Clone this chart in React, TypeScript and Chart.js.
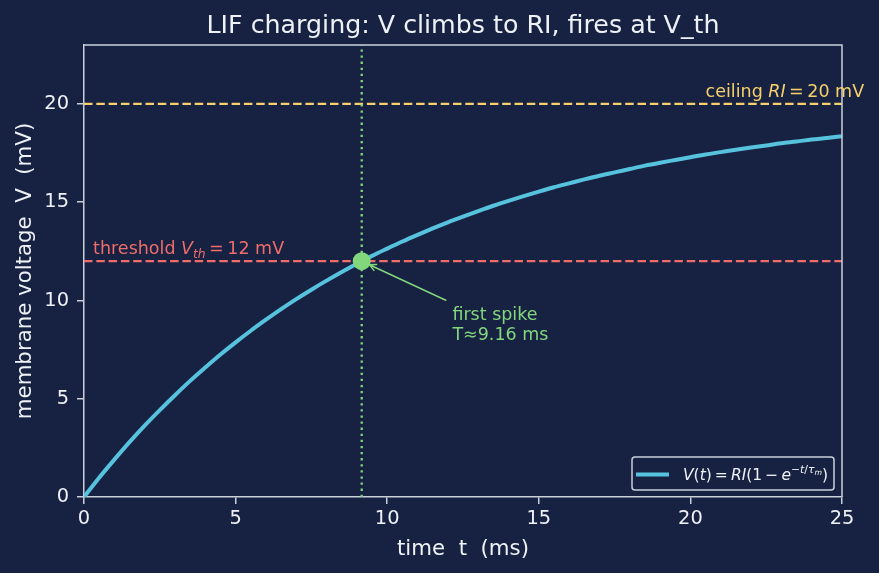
import React, { useEffect, useRef } from "react";
import { Chart, registerables } from "chart.js";

Chart.register(...registerables);

// Membrane potential of a leaky integrate-and-fire neuron charging toward RI
const tMs = [
  0, 0.5, 1, 1.5, 2, 2.5, 3, 3.5, 4, 4.5, 5, 5.5, 6, 6.5, 7, 7.5, 8, 8.5, 9, 9.5,
  10, 10.5, 11, 11.5, 12, 12.5, 13, 13.5, 14, 14.5, 15, 15.5, 16, 16.5, 17, 17.5,
  18, 18.5, 19, 19.5, 20, 20.5, 21, 21.5, 22, 22.5, 23, 23.5, 24, 24.5, 25,
];
const vmV = [
  0, 0.98, 1.9, 2.79, 3.63, 4.42, 5.18, 5.91, 6.59, 7.25, 7.87, 8.46, 9.02, 9.56,
  10.07, 10.55, 11.01, 11.45, 11.87, 12.27, 12.64, 13.0, 13.34, 13.67, 13.98, 14.27,
  14.55, 14.82, 15.07, 15.31, 15.54, 15.76, 15.96, 16.16, 16.35, 16.52, 16.69, 16.86,
  17.01, 17.15, 17.29, 17.43, 17.55, 17.67, 17.78, 17.89, 18.0, 18.09, 18.19, 18.27,
  18.36,
];

const V_TH = 12; // firing threshold (mV)
const RI = 20; // asymptotic ceiling (mV)
const T_SPIKE = 9.16; // first threshold crossing (ms)

const xTicks = [0, 5, 10, 15, 20, 25];
const yTicks = [0, 5, 10, 15, 20];

const BG = "#172141";
const FRAME = "#c9d0dc";
const TEXT = "#eef1f6";
const CURVE = "#56c2de";
const GREEN = "#82d67c";
const YELLOW = "#f5d06c";
const RED = "#ee6d6b";
const FAMILY = '"DejaVu Sans", "Noto Sans", sans-serif';

type Part = { t: string; it?: boolean; sc?: number; dy?: number };

function fontFor(p: Part, size: number) {
  const s = size * (p.sc ?? 1);
  return `${p.it ? "italic " : ""}${s}px ${FAMILY}`;
}

function drawRich(
  ctx: CanvasRenderingContext2D,
  parts: Part[],
  x: number,
  y: number,
  size: number,
  color: string,
  align: "left" | "center" = "left"
) {
  ctx.save();
  ctx.textBaseline = "alphabetic";
  ctx.textAlign = "left";
  let total = 0;
  for (const p of parts) {
    ctx.font = fontFor(p, size);
    total += ctx.measureText(p.t).width;
  }
  let cx = align === "center" ? x - total / 2 : x;
  ctx.fillStyle = color;
  for (const p of parts) {
    ctx.font = fontFor(p, size);
    ctx.fillText(p.t, cx, y + (p.dy ?? 0) * size);
    cx += ctx.measureText(p.t).width;
  }
  ctx.restore();
}

const decorPlugin = {
  id: "lifDecor",
  beforeDraw(chart: any) {
    const { ctx, width, height } = chart;
    ctx.save();
    ctx.fillStyle = BG;
    ctx.fillRect(0, 0, width, height);
    ctx.restore();
  },
  afterDraw(chart: any) {
    const { ctx, chartArea: a } = chart;
    const xs = chart.scales.x;
    const ys = chart.scales.y;

    // top and right spines
    ctx.save();
    ctx.strokeStyle = FRAME;
    ctx.lineWidth = 1.5;
    ctx.beginPath();
    ctx.moveTo(a.left, a.top);
    ctx.lineTo(a.right, a.top);
    ctx.lineTo(a.right, a.bottom);
    ctx.stroke();
    ctx.restore();

    // title
    drawRich(ctx, [{ t: "LIF charging: V climbs to RI, fires at V_th" }], (a.left + a.right) / 2, 33, 25.3, TEXT, "center");

    // axis titles
    drawRich(ctx, [{ t: "time  t  (ms)" }], (a.left + a.right) / 2, 555, 21.3, TEXT, "center");
    ctx.save();
    ctx.translate(31, (a.top + a.bottom) / 2);
    ctx.rotate(-Math.PI / 2);
    drawRich(ctx, [{ t: "membrane voltage  V  (mV)" }], 0, 0, 21.3, TEXT, "center");
    ctx.restore();

    // reference line labels
    drawRich(
      ctx,
      [{ t: "threshold " }, { t: "V", it: true }, { t: "th", it: true, sc: 0.7, dy: 0.22 }, { t: "\u2009=\u200912" }, { t: " mV" }],
      xs.getPixelForValue(0.3),
      ys.getPixelForValue(V_TH) - 7,
      17.5,
      RED
    );
    drawRich(
      ctx,
      [{ t: "ceiling " }, { t: "RI", it: true }, { t: "\u2009=\u200920" }, { t: " mV" }],
      xs.getPixelForValue(20.5),
      ys.getPixelForValue(RI) - 7,
      17.5,
      YELLOW
    );

    // spike marker on top of the reference lines
    const px = xs.getPixelForValue(T_SPIKE);
    const py = ys.getPixelForValue(V_TH);
    ctx.save();
    ctx.fillStyle = GREEN;
    ctx.beginPath();
    ctx.arc(px, py, 9, 0, Math.PI * 2);
    ctx.fill();
    ctx.restore();

    // arrow pointing to the first spike
    const tx = xs.getPixelForValue(11.95);
    const ty = ys.getPixelForValue(10.0);
    const dx = tx - px;
    const dyv = ty - py;
    const len = Math.hypot(dx, dyv);
    const ux = dx / len;
    const uy = dyv / len;
    const hx = px + ux * 8.5;
    const hy = py + uy * 8.5;
    ctx.save();
    ctx.strokeStyle = GREEN;
    ctx.lineWidth = 1.5;
    ctx.beginPath();
    ctx.moveTo(tx, ty);
    ctx.lineTo(hx, hy);
    const hl = 7;
    const hw = 3.5;
    ctx.moveTo(hx + ux * hl - uy * hw, hy + uy * hl + ux * hw);
    ctx.lineTo(hx, hy);
    ctx.lineTo(hx + ux * hl + uy * hw, hy + uy * hl - ux * hw);
    ctx.stroke();
    ctx.restore();

    const ax = xs.getPixelForValue(12.15);
    const ay = ys.getPixelForValue(9.0);
    drawRich(ctx, [{ t: "first spike" }], ax, ay, 17.5, GREEN);
    drawRich(ctx, [{ t: "T\u2248" + T_SPIKE.toFixed(2) + " ms" }], ax, ay + 20, 17.5, GREEN);

    // legend
    const lx = 632;
    const ly = 457;
    const lw = 202;
    const lh = 33;
    ctx.save();
    ctx.fillStyle = BG;
    ctx.strokeStyle = FRAME;
    ctx.lineWidth = 1.5;
    ctx.beginPath();
    ctx.roundRect(lx, ly, lw, lh, 3);
    ctx.fill();
    ctx.stroke();
    ctx.strokeStyle = CURVE;
    ctx.lineWidth = 4;
    ctx.beginPath();
    ctx.moveTo(lx + 4, ly + 17.5);
    ctx.lineTo(lx + 37, ly + 17.5);
    ctx.stroke();
    ctx.restore();
    const sup = -0.42;
    drawRich(
      ctx,
      [
        { t: "V", it: true },
        { t: "(" },
        { t: "t", it: true },
        { t: ")" },
        { t: "\u2009=\u2009" },
        { t: "RI", it: true },
        { t: "(1\u2009\u2212\u2009" },
        { t: "e", it: true },
        { t: "\u2212", sc: 0.7, dy: sup },
        { t: "t", it: true, sc: 0.7, dy: sup },
        { t: "/", sc: 0.7, dy: sup },
        { t: "\u03c4", it: true, sc: 0.7, dy: sup },
        { t: "m", it: true, sc: 0.5, dy: -0.3 },
        { t: ")" },
      ],
      lx + 51,
      ly + 23,
      15.5,
      TEXT
    );
  },
};

export default function App() {
  const ref = useRef<HTMLCanvasElement | null>(null);

  useEffect(() => {
    if (!ref.current) return;
    const curve = tMs.map((t, i) => ({ x: t, y: vmV[i] }));
    const chart = new Chart(ref.current, {
      type: "line",
      data: {
        datasets: [
          {
            label: "V(t)",
            data: curve,
            borderColor: CURVE,
            borderWidth: 4,
            pointRadius: 0,
            cubicInterpolationMode: "monotone",
            fill: false,
            order: 0,
          },
          {
            label: "spike time",
            data: [
              { x: T_SPIKE, y: 0 },
              { x: T_SPIKE, y: 23 },
            ],
            borderColor: GREEN,
            borderWidth: 2.3,
            borderDash: [2.3, 3.8],
            pointRadius: 0,
            order: 1,
          },
          {
            label: "threshold",
            data: [
              { x: 0, y: V_TH },
              { x: 25, y: V_TH },
            ],
            borderColor: RED,
            borderWidth: 2.3,
            borderDash: [8.5, 3.8],
            pointRadius: 0,
            order: 2,
          },
          {
            label: "ceiling",
            data: [
              { x: 0, y: RI },
              { x: 25, y: RI },
            ],
            borderColor: YELLOW,
            borderWidth: 2.3,
            borderDash: [8.5, 3.8],
            pointRadius: 0,
            order: 3,
          },
        ],
      },
      options: {
        responsive: false,
        animation: false,
        layout: { padding: { left: 0, top: 45, right: 37, bottom: 0 } },
        plugins: {
          legend: { display: false },
          title: { display: false },
          tooltip: { enabled: false },
        },
        scales: {
          x: {
            type: "linear",
            min: 0,
            max: 25,
            afterBuildTicks: (s: any) => {
              s.ticks = xTicks.map((v) => ({ value: v }));
            },
            afterFit: (s: any) => {
              s.height = 76;
            },
            ticks: {
              color: TEXT,
              font: { family: FAMILY, size: 19.4 },
              padding: 3,
              maxRotation: 0,
              autoSkip: false,
            },
            grid: {
              drawOnChartArea: false,
              drawTicks: true,
              tickLength: 7,
              color: FRAME,
              lineWidth: 1.5,
            },
            border: { color: FRAME, width: 1.5 },
          },
          y: {
            type: "linear",
            min: 0,
            max: 23,
            afterBuildTicks: (s: any) => {
              s.ticks = yTicks.map((v) => ({ value: v }));
            },
            afterFit: (s: any) => {
              s.width = 84;
            },
            ticks: {
              color: TEXT,
              font: { family: FAMILY, size: 19.4 },
              padding: 8,
              autoSkip: false,
            },
            grid: {
              drawOnChartArea: false,
              drawTicks: true,
              tickLength: 7,
              color: FRAME,
              lineWidth: 1.5,
            },
            border: { color: FRAME, width: 1.5 },
          },
        },
      },
      plugins: [decorPlugin],
    } as any);
    return () => chart.destroy();
  }, []);

  return (
    <div style={{ position: "fixed", left: 0, top: 0, width: 879, height: 573, background: BG }}>
      <canvas ref={ref} width={879} height={573} style={{ display: "block" }} />
    </div>
  );
}
